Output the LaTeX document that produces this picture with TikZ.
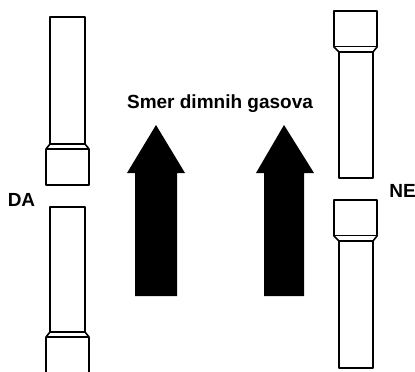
\documentclass[tikz,border=0pt]{standalone}
\usepackage{fontspec}
\setmainfont{Liberation Sans}
\tikzset{
  wall/.style={draw=black,line width=1.6pt,line join=round,fill=white},
  bigarrow/.style={fill=black,draw=none},
  lbl/.style={inner sep=0pt,font=\fontsize{19}{21}\selectfont\bfseries,text=black}
}
\begin{document}
\begin{tikzpicture}[x=1pt,y=-1pt]
\useasboundingbox (0,0) rectangle (415,372);
% upper left pipe, socket below
\draw[wall] (50,17) rectangle (85,144);
\draw[wall] (50,144) -- (46,149) -- (46,185) -- (89,185) -- (89,149) -- (85,144) -- cycle;
\draw[wall] (46,149) -- (89,149);
% lower left pipe, socket below (cut by the edge)
\draw[wall] (50,207) rectangle (85,332);
\draw[wall] (46,373.5) -- (46,337) -- (50,332) -- (85,332) -- (89,337) -- (89,373.5);
\draw[wall] (46,337) -- (89,337);
% upper right pipe, socket above
\draw[wall] (339,52) rectangle (373,178);
\draw[wall] (334,11) rectangle (377,47);
\draw[wall] (334,47) -- (339,52) -- (373,52) -- (377,47);
% lower right pipe, socket above
\draw[wall] (339,241) rectangle (373,368);
\draw[wall] (334,200) rectangle (377,236);
\draw[wall] (334,236) -- (339,241) -- (373,241) -- (377,236);
% arrows
\fill[bigarrow] (156,125) -- (185,173) -- (177,173) -- (177,296) -- (135,296) -- (135,173) -- (127,173) -- cycle;
\fill[bigarrow] (284,125) -- (314,173) -- (304,173) -- (304,296) -- (264,296) -- (264,173) -- (256,173) -- cycle;
% labels
\node[lbl] (title) at (220,103.5) {Smer dimnih gasova};
\node[lbl] (da) at (21.5,199.5) {DA};
\node[lbl] (ne) at (402.5,190.5) {NE};
\end{tikzpicture}
\end{document}
